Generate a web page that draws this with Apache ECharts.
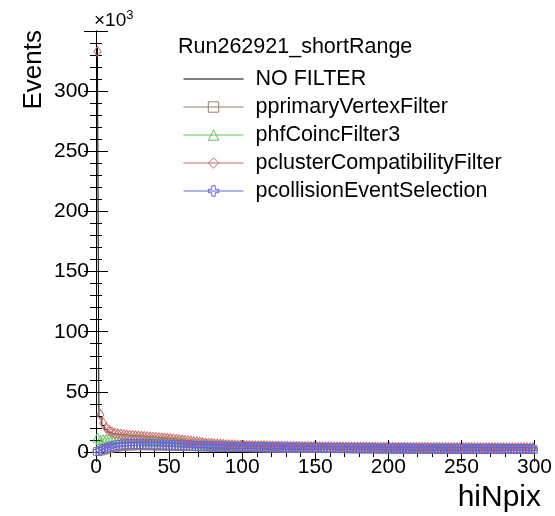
<!DOCTYPE html>
<html>
<head>
<meta charset="utf-8">
<script src="https://cdn.jsdelivr.net/npm/echarts@6.0.0/dist/echarts.min.js"></script>
<style>
  html, body { margin: 0; padding: 0; background: #fff; }
  #root { width: 555px; height: 516px; }
</style>
</head>
<body>
<div id="root"></div>
<script>
// hiNpix histogram, 150 bins of width 2 from 0 to 300, values in units of 10^3 events
const binLow = 0;
const binWidth = 2;

const noFilter = [
  336, 29, 22, 18.5, 16.5, 15.5, 15.0, 14.7, 14.4, 14.2,
  14.0, 13.9, 13.7, 13.5, 13.3, 13.1, 12.9, 12.7, 12.5, 12.3,
  12.1, 11.9, 11.7, 11.5, 11.3, 11.1, 10.8, 10.5, 10.2, 9.9,
  9.6, 9.3, 9.0, 8.7, 8.4, 8.1, 7.8, 7.5, 7.3, 7.1,
  6.9, 6.7, 6.5, 6.3, 6.1, 6.0, 5.9, 5.8, 5.7, 5.6,
  5.5, 5.45, 5.4, 5.35, 5.3, 5.25, 5.2, 5.15, 5.1, 5.05,
  5.0, 4.96, 4.92, 4.88, 4.84, 4.8, 4.76, 4.72, 4.68, 4.65,
  4.62, 4.59, 4.56, 4.53, 4.5, 4.47, 4.44, 4.41, 4.38, 4.35,
  4.32, 4.3, 4.28, 4.26, 4.24, 4.22, 4.2, 4.18, 4.16, 4.14,
  4.12, 4.1, 4.08, 4.06, 4.04, 4.02, 4.0, 3.98, 3.96, 3.94,
  3.92, 3.91, 3.9, 3.89, 3.88, 3.87, 3.86, 3.85, 3.84, 3.83,
  3.82, 3.81, 3.8, 3.79, 3.78, 3.77, 3.76, 3.75, 3.74, 3.73,
  3.72, 3.71, 3.7, 3.7, 3.69, 3.68, 3.68, 3.67, 3.66, 3.66,
  3.65, 3.64, 3.64, 3.63, 3.62, 3.62, 3.61, 3.6, 3.6, 3.59,
  3.58, 3.58, 3.57, 3.56, 3.56, 3.55, 3.54, 3.54, 3.53, 3.52
];

const primaryVertex = [
  0.3, 0.8, 1.5, 2.2, 2.9, 3.5, 3.9, 4.3, 4.6, 4.9,
  5.0, 5.1, 5.2, 5.25, 5.3, 5.3, 5.3, 5.25, 5.2, 5.2,
  5.15, 5.1, 5.05, 5.0, 4.95, 4.9, 4.85, 4.8, 4.75, 4.7,
  4.65, 4.6, 4.55, 4.5, 4.45, 4.4, 4.35, 4.3, 4.25, 4.2,
  4.15, 4.1, 4.05, 4.0, 3.95, 3.9, 3.85, 3.8, 3.77, 3.74,
  3.71, 3.68, 3.65, 3.62, 3.59, 3.56, 3.53, 3.5, 3.47, 3.44,
  3.41, 3.38, 3.35, 3.32, 3.29, 3.26, 3.23, 3.2, 3.17, 3.14,
  3.12, 3.1, 3.08, 3.06, 3.04, 3.02, 3.0, 2.98, 2.96, 2.94,
  2.92, 2.9, 2.88, 2.86, 2.84, 2.82, 2.8, 2.78, 2.76, 2.74,
  2.72, 2.7, 2.68, 2.66, 2.64, 2.62, 2.6, 2.58, 2.56, 2.55,
  2.54, 2.52, 2.5, 2.49, 2.48, 2.46, 2.45, 2.44, 2.42, 2.41,
  2.4, 2.39, 2.38, 2.36, 2.35, 2.34, 2.33, 2.32, 2.31, 2.3,
  2.29, 2.28, 2.27, 2.26, 2.25, 2.24, 2.23, 2.22, 2.21, 2.2,
  2.19, 2.18, 2.18, 2.17, 2.16, 2.16, 2.15, 2.14, 2.14, 2.13,
  2.12, 2.12, 2.11, 2.1, 2.1, 2.09, 2.08, 2.08, 2.07, 2.06
];

const hfCoinc = [
  12.0, 10.0, 10.5, 11.0, 11.3, 11.5, 11.5, 11.5, 11.4, 11.3,
  11.2, 11.0, 10.9, 10.8, 10.7, 10.5, 10.4, 10.3, 10.1, 10.0,
  9.8, 9.6, 9.4, 9.2, 9.0, 8.8, 8.6, 8.4, 8.2, 8.0,
  7.8, 7.6, 7.4, 7.2, 7.0, 6.8, 6.6, 6.4, 6.2, 6.0,
  5.85, 5.7, 5.55, 5.4, 5.3, 5.2, 5.1, 5.0, 4.95, 4.9,
  4.85, 4.8, 4.75, 4.7, 4.65, 4.6, 4.56, 4.52, 4.48, 4.44,
  4.4, 4.37, 4.34, 4.31, 4.28, 4.25, 4.22, 4.19, 4.16, 4.13,
  4.1, 4.08, 4.06, 4.04, 4.02, 4.0, 3.98, 3.96, 3.94, 3.92,
  3.9, 3.88, 3.86, 3.84, 3.82, 3.8, 3.79, 3.78, 3.77, 3.76,
  3.75, 3.74, 3.73, 3.72, 3.71, 3.7, 3.69, 3.68, 3.67, 3.66,
  3.65, 3.64, 3.63, 3.62, 3.61, 3.6, 3.59, 3.58, 3.57, 3.56,
  3.55, 3.54, 3.53, 3.52, 3.51, 3.5, 3.49, 3.48, 3.47, 3.46,
  3.45, 3.44, 3.44, 3.43, 3.42, 3.42, 3.41, 3.4, 3.4, 3.39,
  3.38, 3.38, 3.37, 3.36, 3.36, 3.35, 3.34, 3.34, 3.33, 3.32,
  3.32, 3.31, 3.3, 3.3, 3.29, 3.28, 3.28, 3.27, 3.26, 3.26
];

const clusterCompat = [
  333, 31, 24, 20, 18, 16.5, 15.5, 15.0, 14.6, 14.3,
  14.0, 13.8, 13.6, 13.4, 13.2, 13.0, 12.8, 12.6, 12.4, 12.2,
  12.0, 11.8, 11.6, 11.4, 11.2, 11.0, 10.7, 10.4, 10.1, 9.8,
  9.5, 9.2, 8.9, 8.6, 8.3, 8.0, 7.7, 7.4, 7.2, 7.0,
  6.8, 6.6, 6.4, 6.2, 6.0, 5.9, 5.8, 5.7, 5.6, 5.5,
  5.4, 5.35, 5.3, 5.25, 5.2, 5.15, 5.1, 5.05, 5.0, 4.95,
  4.9, 4.86, 4.82, 4.78, 4.74, 4.7, 4.66, 4.62, 4.58, 4.55,
  4.52, 4.49, 4.46, 4.43, 4.4, 4.37, 4.34, 4.31, 4.28, 4.25,
  4.22, 4.2, 4.18, 4.16, 4.14, 4.12, 4.1, 4.08, 4.06, 4.04,
  4.02, 4.0, 3.98, 3.96, 3.94, 3.92, 3.9, 3.88, 3.86, 3.84,
  3.82, 3.81, 3.8, 3.79, 3.78, 3.77, 3.76, 3.75, 3.74, 3.73,
  3.72, 3.71, 3.7, 3.69, 3.68, 3.67, 3.66, 3.65, 3.64, 3.63,
  3.62, 3.61, 3.6, 3.6, 3.59, 3.58, 3.58, 3.57, 3.56, 3.56,
  3.55, 3.54, 3.54, 3.53, 3.52, 3.52, 3.51, 3.5, 3.5, 3.49,
  3.48, 3.48, 3.47, 3.46, 3.46, 3.45, 3.44, 3.44, 3.43, 3.42
];

const collisionSel = [
  0.8, 1.5, 2.5, 3.5, 4.3, 5.0, 5.5, 5.9, 6.2, 6.4,
  6.5, 6.55, 6.6, 6.6, 6.6, 6.6, 6.55, 6.5, 6.5, 6.45,
  6.4, 6.35, 6.3, 6.2, 6.1, 6.0, 5.9, 5.8, 5.7, 5.6,
  5.5, 5.4, 5.3, 5.2, 5.1, 5.0, 4.95, 4.9, 4.8, 4.7,
  4.65, 4.6, 4.55, 4.5, 4.45, 4.4, 4.35, 4.3, 4.28, 4.25,
  4.22, 4.18, 4.14, 4.1, 4.06, 4.02, 3.98, 3.94, 3.9, 3.86,
  3.83, 3.8, 3.77, 3.74, 3.71, 3.68, 3.65, 3.62, 3.59, 3.56,
  3.53, 3.5, 3.48, 3.46, 3.44, 3.42, 3.4, 3.38, 3.36, 3.34,
  3.32, 3.3, 3.28, 3.26, 3.24, 3.22, 3.2, 3.18, 3.16, 3.14,
  3.12, 3.1, 3.08, 3.06, 3.04, 3.02, 3.0, 2.99, 2.98, 2.97,
  2.96, 2.95, 2.94, 2.93, 2.92, 2.91, 2.9, 2.89, 2.88, 2.87,
  2.86, 2.85, 2.84, 2.83, 2.82, 2.81, 2.8, 2.79, 2.78, 2.77,
  2.76, 2.75, 2.74, 2.73, 2.72, 2.71, 2.7, 2.69, 2.68, 2.67,
  2.66, 2.65, 2.64, 2.63, 2.62, 2.61, 2.6, 2.59, 2.58, 2.57,
  2.56, 2.55, 2.54, 2.53, 2.52, 2.51, 2.5, 2.5, 2.49, 2.48
];

const legendTitle = 'Run262921_shortRange';
const seriesNames = ['NO FILTER', 'pprimaryVertexFilter', 'phfCoincFilter3',
  'pclusterCompatibilityFilter', 'pcollisionEventSelection'];
const seriesColors = ['#000000', '#9c7b6f', '#5cc25c', '#cc6666', '#6666dd'];

const FONT = '"Liberation Sans", Arial, Helvetica, sans-serif';
const crossPath = 'path://M-1,-3L1,-3L1,-1L3,-1L3,1L1,1L1,3L-1,3L-1,1L-3,1L-3,-1L-1,-1Z';

function toPoints(values) {
  return values.map((v, i) => [binLow + binWidth * (i + 0.5), v]);
}

// marker-only histograms (ROOT "P" style), line kept only for the legend
function markerSeries(idx, values, symbol, size) {
  const c = seriesColors[idx];
  return {
    name: seriesNames[idx],
    type: 'line',
    data: toPoints(values),
    symbol: symbol,
    symbolSize: size,
    showAllSymbol: true,
    lineStyle: { color: c, width: 1, opacity: 0 },
    itemStyle: { color: 'rgba(255,255,255,0)', borderColor: c, borderWidth: 1 },
    emphasis: { disabled: true },
    animation: false
  };
}

const chart = echarts.init(document.getElementById('root'), null, { renderer: 'canvas' });

const axisCommon = {
  type: 'value',
  axisLine: { show: true, lineStyle: { color: '#000', width: 1 } },
  axisTick: { show: true, inside: true, length: 12, lineStyle: { color: '#000' } },
  minorTick: { show: true, splitNumber: 5, length: 6, lineStyle: { color: '#000' } },
  splitLine: { show: false },
  axisLabel: { color: '#000', fontFamily: FONT, fontSize: 21 }
};

const legendData = seriesNames.map((name, i) => ({
  name: name,
  lineStyle: { color: seriesColors[i], width: 1, opacity: 1 },
  itemStyle: i === 0
    ? { opacity: 0 }
    : { color: 'rgba(255,255,255,0)', borderColor: seriesColors[i], borderWidth: 1 }
}));

chart.setOption({
  backgroundColor: '#fff',
  animation: false,
  grid: { left: 96, right: 11, top: 31, bottom: 64, containLabel: false },
  xAxis: [
    Object.assign({}, axisCommon, {
      position: 'bottom', min: 0, max: 300, interval: 50,
      axisLabel: Object.assign({}, axisCommon.axisLabel, { margin: 5 })
    }),
    Object.assign({}, axisCommon, {
      position: 'top', min: 0, max: 300, interval: 50,
      axisTick: Object.assign({}, axisCommon.axisTick, { length: 10 }),
      minorTick: Object.assign({}, axisCommon.minorTick, { length: 5 }),
      axisLabel: { show: false }
    })
  ],
  yAxis: [
    Object.assign({}, axisCommon, {
      position: 'left', min: 0, max: 350, interval: 50,
      axisLabel: Object.assign({}, axisCommon.axisLabel, {
        margin: 7,
        formatter: v => (v === 350 ? '' : String(v))
      })
    }),
    Object.assign({}, axisCommon, {
      position: 'right', min: 0, max: 350, interval: 50,
      axisLabel: { show: false }
    })
  ],
  legend: {
    orient: 'vertical',
    left: 178,
    top: 63,
    itemWidth: 60,
    itemHeight: 13,
    itemGap: 6,
    selectedMode: false,
    data: legendData,
    textStyle: { color: '#000', fontFamily: FONT, fontSize: 21.5, lineHeight: 21, padding: [0, 0, 0, 7] }
  },
  graphic: [
    { type: 'text', left: 178, top: 36,
      style: { text: legendTitle, fontFamily: FONT, fontSize: 21.5, fill: '#000' } },
    { type: 'text', left: 94, top: 9,
      style: {
        text: '{a|×10}{b|3}', fill: '#000',
        rich: {
          a: { fontFamily: FONT, fontSize: 19, verticalAlign: 'bottom' },
          b: { fontFamily: FONT, fontSize: 13, verticalAlign: 'top', padding: [0, 0, 8, 0] }
        }
      } },
    { type: 'text', right: 14, top: 483,
      style: { text: 'hiNpix', fontFamily: FONT, fontSize: 30, fill: '#000' } },
    { type: 'text', left: 21, top: 30, rotation: Math.PI / 2,
      style: { text: 'Events', fontFamily: FONT, fontSize: 26, fill: '#000', align: 'right', verticalAlign: 'top' } }
  ],
  series: [
    {
      name: seriesNames[0],
      type: 'line',
      step: 'middle',
      data: toPoints(noFilter),
      symbol: 'none',
      lineStyle: { color: seriesColors[0], width: 1 },
      itemStyle: { color: seriesColors[0] },
      emphasis: { disabled: true },
      animation: false
    },
    markerSeries(1, primaryVertex, 'rect', 8),
    markerSeries(2, hfCoinc, 'triangle', 9),
    markerSeries(3, clusterCompat, 'diamond', [7, 10]),
    markerSeries(4, collisionSel, crossPath, 9)
  ]
});
</script>
</body>
</html>
